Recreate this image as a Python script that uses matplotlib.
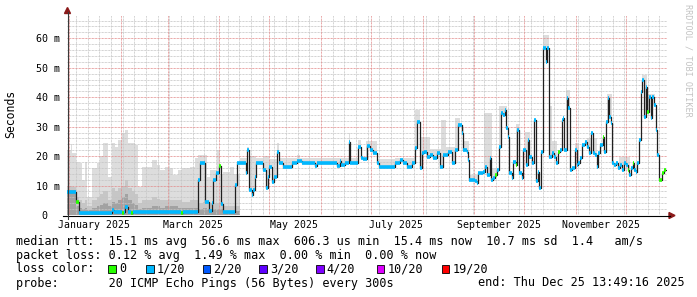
import numpy as np
import matplotlib
matplotlib.use("Agg")
import matplotlib.pyplot as plt
import matplotlib.dates as mdates
from matplotlib.lines import Line2D
from matplotlib.patches import Polygon, Rectangle
from datetime import datetime, timedelta

# time range of the graph (last 360 days)
start = datetime(2024, 12, 30, 13, 49, 16)
end = datetime(2025, 12, 25, 13, 49, 16)
data_end_day = 359.6
y_top = 67.9  # ms

# median rtt (ms), step function: segment starts (days after start) and values
med_day = [
    0, 5.4, 7.2, 26.8, 28.2, 33.0, 34.0, 34.8, 36.4, 38.6,
    39.6, 68.4, 69.4, 78.6, 79.8, 82.8, 85.4, 87.0, 87.8, 89.4,
    91.0, 92.4, 93.8, 100.8, 102.0, 107.4, 108.2, 109.2, 110.8, 111.8,
    112.5, 113.4, 117.8, 119.4, 120.4, 121.4, 123.2, 124.4, 125.8, 127.0,
    129.8, 134.8, 138.0, 141.0, 148.5, 150.0, 162.0, 163.5, 164.5, 166.5,
    169.0, 169.8, 174.8, 176.4, 177.4, 179.8, 181.8, 183.8, 185.8, 187.2,
    196.8, 199.8, 201.8, 203.8, 206.8, 208.8, 209.8, 211.8, 212.8, 214.4,
    215.8, 217.8, 219.8, 221.8, 223.8, 225.8, 228.8, 230.8, 232.8, 234.8,
    236.8, 237.4, 239.8, 240.8, 241.4, 244.8, 245.8, 246.8, 249.8, 250.8,
    251.8, 253.8, 254.4, 255.8, 256.8, 258.2, 259.4, 260.2, 261.4, 262.8,
    263.4, 264.4, 265.2, 266.8, 267.8, 269.4, 270.2, 271.4, 272.8, 273.8,
    275.2, 276.4, 277.4, 278.8, 280.2, 281.2, 282.4, 283.4, 284.4, 285.4,
    285.8, 287.4, 288.2, 289.0, 290.8, 292.4, 293.4, 294.8, 295.8, 296.8,
    297.8, 298.4, 299.8, 300.8, 301.8, 303.0, 304.8, 305.8, 306.8, 307.8,
    308.8, 310.8, 311.8, 313.4, 314.2, 315.4, 316.8, 317.8, 318.8, 319.8,
    321.4, 322.4, 323.4, 324.4, 325.2, 326.2, 327.2, 328.2, 329.4, 330.8,
    331.8, 333.2, 334.2, 335.2, 336.4, 337.4, 338.2, 339.4, 340.4, 341.2,
    342.2, 343.2, 344.2, 345.2, 346.2, 347.2, 348.2, 349.2, 350.2, 351.2,
    352.2, 353.4, 354.2, 355.4, 356.8, 358.2,
]
med_ms = [
    7.9, 4.5, 0.8, 1.7, 1.0, 0.6, 1.0, 2.8, 1.0, 0.6,
    1.0, 0.8, 1.0, 11.9, 17.8, 4.5, 1.5, 4.0, 12.0, 14.4,
    16.6, 3.7, 1.1, 10.2, 17.5, 14.2, 22.0, 8.5, 6.8, 8.5,
    13.0, 17.5, 15.3, 9.0, 13.0, 16.4, 11.3, 13.0, 21.5, 17.5,
    16.4, 17.5, 18.3, 17.5, 16.8, 17.5, 16.5, 18.3, 17.0, 17.5,
    24.9, 17.5, 23.2, 19.2, 18.9, 23.4, 22.0, 21.0, 17.5, 16.4,
    17.5, 18.7, 17.5, 16.4, 17.5, 22.6, 31.7, 15.9, 21.0, 21.5,
    19.8, 20.4, 19.2, 21.0, 16.4, 20.4, 21.5, 17.5, 22.0, 30.6,
    27.7, 22.0, 21.5, 18.7, 11.9, 11.5, 10.8, 14.2, 14.7, 16.4,
    13.6, 19.2, 11.9, 12.5, 13.6, 15.3, 23.2, 34.5, 34.0, 35.7,
    29.4, 26.6, 14.2, 12.5, 18.1, 17.0, 28.9, 14.2, 12.5, 22.0,
    17.0, 25.5, 19.8, 17.5, 32.3, 11.5, 14.7, 9.1, 21.5, 40.2,
    56.6, 52.1, 56.6, 19.8, 21.0, 19.8, 17.5, 21.5, 22.0, 32.3,
    32.8, 22.0, 39.6, 36.3, 15.3, 15.9, 22.0, 17.0, 17.5, 19.2,
    23.8, 24.9, 23.2, 21.0, 27.7, 21.0, 20.4, 16.4, 21.0, 23.8,
    26.6, 21.5, 31.7, 39.6, 33.4, 31.1, 17.5, 17.0, 17.5, 15.9,
    17.0, 15.3, 17.5, 17.0, 15.3, 13.6, 15.9, 17.5, 15.3, 14.7,
    17.5, 25.5, 41.9, 45.8, 33.4, 43.6, 35.1, 40.2, 32.8, 40.2,
    37.3, 28.9, 20.4, 11.9, 14.2, 15.3,
]
# segments (by start day) where no packet was lost
zero_loss_days = [5.4, 33.0, 38.6, 68.4, 91.0, 256.8, 269.4, 294.8, 321.4,
                  336.4, 339.4, 348.2, 355.4, 356.8, 358.2]

# early smoke (Jan-Apr), drawn from zero: outer, middle, inner ping spread (ms)
early_day = [0, 2.4, 3.2, 5.4, 7.0, 8.8, 10.8, 12.2, 14.8, 17.8,
             19.8, 21.8, 24.8, 26.8, 28.8, 30.8, 32.8, 34.8, 36.8, 38.8,
             40.8, 42.8, 44.8, 47.8, 50.8, 53.8, 55.8, 58.8, 60.8, 63.8,
             66.8, 68.8, 73.8, 76.8, 78.8, 81.8, 83.8, 85.8, 87.8, 89.8,
             91.8, 93.8, 97.8, 100.0, 104.0]
early_hi = [22, 24, 21, 18, 17.5, 12, 18, 6, 15.8, 17.5,
            20, 24.5, 13, 24.3, 23, 25.5, 27.7, 28.9, 24.3, 24.3,
            23.8, 9.6, 16.4, 16.4, 18.7, 17, 15.3, 16.4, 16, 13.6,
            15.3, 15.8, 16.4, 19.2, 20.4, 20.4, 13, 15.3, 15.3, 22,
            14, 14.7, 16.4, 14, 0]
early_mid = [10, 10, 9.5, 6, 5, 4, 5, 3, 5, 6,
             7, 8, 5, 9, 8, 9, 10, 12, 9, 8,
             7, 4, 5, 5, 6, 5.5, 5, 5, 5, 5,
             5, 4.5, 5, 5, 4, 4.5, 4, 4, 4, 4,
             4, 3, 3, 3, 0]
early_core = [8.5, 8.5, 8.5, 3, 2.5, 2, 2.5, 1.8, 2.5, 3,
              3.5, 4, 3, 4.5, 4, 5, 6, 7, 5, 4,
              3.5, 2, 2.5, 2.5, 3, 3, 2.5, 3, 3, 3,
              2.5, 2.5, 2.5, 2.5, 2, 2.5, 2, 2, 2, 2,
              2, 1.5, 1.5, 1.5, 0]

# later smoke: highest ping (ms), drawn upwards from the median
late_day = [104, 108.2, 109.2, 113.4, 118, 121.4, 125.8, 127, 138, 140,
            169, 170, 174.5, 176.5, 179.5, 186, 197, 208.5, 211.5, 218,
            224.5, 227.5, 233, 236, 238, 241, 250, 255, 259, 264,
            269.5, 271, 275, 278, 285.4, 289, 291, 294, 299.4, 302,
            305, 307, 312, 318, 324, 327, 331, 338, 345, 348, 353]
late_hi = [19.5, 23.2, 20, 19.5, 20, 19, 24.3, 19.3, 20.5, 19.3,
           27.7, 19.3, 25.5, 19.5, 25, 19, 19.5, 35.7, 26.6, 22.5,
           32.3, 23, 32.8, 30, 25, 13.5, 34.5, 16, 37, 0,
           31, 0, 28.3, 0, 61, 37, 25, 0, 42.6, 0,
           24.3, 0, 26, 0, 41, 0, 19.8, 0, 47.5, 41, 0]

month_labels = ["January 2025", "March 2025", "May 2025",
                "July 2025", "September 2025", "November 2025"]
label_months = [1, 3, 5, 7, 9, 11]

loss_labels = ["0", "1/20", "2/20", "3/20", "4/20", "10/20", "19/20"]
loss_colors = ["#26ff00", "#00b8ff", "#0059ff", "#5e00ff", "#7e00ff", "#dd00ff", "#ff0000"]

legend_rtt = "median rtt:  15.1 ms avg  56.6 ms max  606.3 us min  15.4 ms now  10.7 ms sd  1.4   am/s"
legend_loss = "packet loss: 0.12 % avg  1.49 % max  0.00 % min  0.00 % now"
legend_probe = "probe:       20 ICMP Echo Pings (56 Bytes) every 300s"
legend_end = "end: Thu Dec 25 13:49:16 2025"

assert len(med_day) == len(med_ms)
assert len(early_day) == len(early_hi) == len(early_mid) == len(early_core)
assert len(late_day) == len(late_hi)


def step_eval(days, vals, grid):
    idx = np.searchsorted(np.asarray(days), grid, side="right") - 1
    idx = np.clip(idx, 0, len(vals) - 1)
    return np.asarray(vals, dtype=float)[idx]


plt.rcParams["font.family"] = ["DejaVu Sans Mono"]

W, H = 697, 297
fig = plt.figure(figsize=(W / 100, H / 100), dpi=100)
fig.patch.set_facecolor("white")


def fx(px):
    return px / W


def fy(py):
    return 1 - py / H


ax = fig.add_axes([fx(67), fy(215), 600 / W, 200 / H])
ax.set_facecolor("white")
for s in ax.spines.values():
    s.set_visible(False)

t0 = mdates.date2num(start)
ax.set_xlim(t0, t0 + 360)
ax.set_ylim(0, y_top)

# smoke, early part
grid_e = np.array(early_day, dtype=float)
for vals, col in [(early_hi, "#dddddd"), (early_mid, "#c6c6c6"), (early_core, "#a2a2a2")]:
    ax.fill_between(t0 + grid_e, 0, step_eval(early_day, vals, grid_e),
                    step="post", color=col, lw=0, zorder=1)

# smoke, later part (above the median)
grid_l = np.union1d(late_day, [d for d in med_day if d >= late_day[0]])
grid_l = np.append(grid_l, data_end_day)
med_l = step_eval(med_day, med_ms, grid_l)
hi_l = np.maximum(step_eval(late_day, late_hi, grid_l), med_l)
ax.fill_between(t0 + grid_l, med_l, hi_l, step="post", color="#dddddd", lw=0, zorder=1)

# dotted grid (1 px on / 1 px off)
minor_c = "#c4c4c4"
major_c = "#e28a8a"


def hgrid(v, col):
    ln = Line2D([0, 1], [v, v], transform=ax.get_yaxis_transform(), color=col,
                lw=0.72, zorder=2)
    ln.set_dashes([0.72, 0.72])
    ax.add_line(ln)


def vgrid(t, col):
    ln = Line2D([t, t], [0, 1], transform=ax.get_xaxis_transform(), color=col,
                lw=0.72, zorder=2)
    ln.set_dashes([0.72, 0.72])
    ax.add_line(ln)


for v in range(2, 68, 2):
    if v % 10:
        hgrid(v, minor_c)
d = datetime(2025, 1, 5)
while d < end:
    if d.day != 1:
        vgrid(mdates.date2num(d), minor_c)
    d += timedelta(days=7)
for v in range(10, 70, 10):
    hgrid(v, major_c)
for m in range(1, 13):
    vgrid(mdates.date2num(datetime(2025, m, 1)), major_c)

# median line
xm = t0 + np.append(med_day, data_end_day)
ym = np.append(med_ms, med_ms[-1])
ax.step(xm, ym, where="post", color="#202020", lw=0.9, zorder=3)

# loss coloured median bands
seg_end = list(med_day[1:]) + [data_end_day]
seg_cols = [loss_colors[0] if d0 in zero_loss_days else loss_colors[1] for d0 in med_day]
ax.hlines(med_ms, t0 + np.array(med_day), t0 + np.array(seg_end),
          colors=seg_cols, lw=2.6, zorder=4)

# ticks and labels
ax.set_yticks(range(0, 70, 10))
ax.set_yticklabels(["0  "] + [f"{v} m" for v in range(10, 70, 10)])
ax.set_xticks([mdates.date2num(datetime(2025, m, 16)) for m in label_months])
ax.set_xticklabels(month_labels)
ax.tick_params(axis="y", length=0, pad=5, labelsize=7.2)
ax.tick_params(axis="x", length=0, pad=3.5, labelsize=7.1)

# axes with arrows
arrow_c = "#8b1a1a"
fig.add_artist(Line2D([fx(63), fx(670)], [fy(215.5), fy(215.5)], color="black", lw=0.8))
fig.add_artist(Line2D([fx(67.5), fx(67.5)], [fy(219), fy(12)], color="#3a3a3a", lw=0.8))
fig.add_artist(Polygon([[fx(669), fy(212.5)], [fx(675), fy(215.5)], [fx(669), fy(218.5)]],
                       closed=True, color=arrow_c, transform=fig.transFigure))
fig.add_artist(Polygon([[fx(64.5), fy(13.5)], [fx(67.5), fy(7.5)], [fx(70.5), fy(13.5)]],
                       closed=True, color=arrow_c, transform=fig.transFigure))

fig.text(fx(10.5), fy(114), "Seconds", rotation=90, ha="center", va="center", fontsize=8.3)
fig.text(fx(688), fy(60), "RRDTOOL / TOBI OETIKER", rotation=270, ha="center", va="center",
         fontsize=6.1, color="#c3c3c3")

# legend block
fs = 8.5
fig.text(fx(16), fy(241), legend_rtt, va="center", fontsize=fs)
fig.text(fx(16), fy(255), legend_loss, va="center", fontsize=fs)
fig.text(fx(16), fy(269), "loss color:", va="center", fontsize=fs)
sq_x = [108.3, 146, 202.7, 259.3, 316, 376.7, 441.7]
for x0, lab, col in zip(sq_x, loss_labels, loss_colors):
    fig.add_artist(Rectangle((fx(x0), fy(272.8)), 7.5 / W, 7.5 / H, facecolor=col,
                             edgecolor="black", lw=0.6, transform=fig.transFigure))
    fig.text(fx(x0 + 10.5), fy(269), lab, va="center", fontsize=fs)
fig.text(fx(16), fy(283), legend_probe, va="center", fontsize=fs)
fig.text(fx(478.3), fy(283), legend_end, va="center", fontsize=fs)

fig.savefig("out.png", dpi=100, facecolor="white")
